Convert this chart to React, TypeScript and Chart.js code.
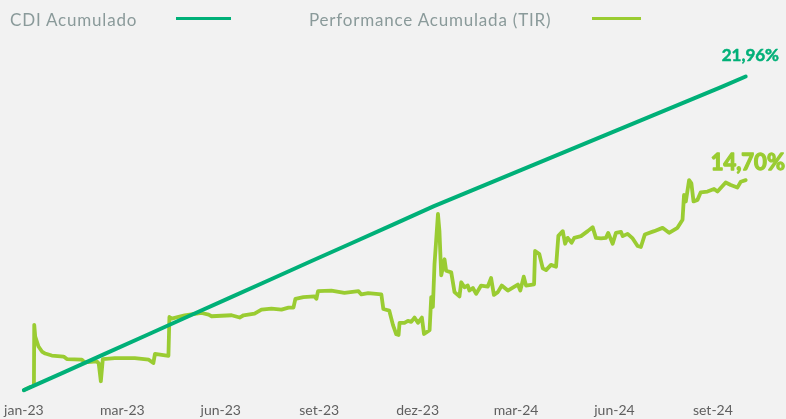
import React, { useEffect, useRef } from "react";
import { Chart, registerables } from "chart.js";

Chart.register(...registerables);

// x unit: business-day index from the start of the series
const tickDays = [0, 60, 120, 180, 240, 300, 360, 420];
const tickLabels = ["jan-23", "mar-23", "jun-23", "set-23", "dez-23", "mar-24", "jun-24", "set-24"];

const seriesNames = ["CDI Acumulado", "Performance Acumulada (TIR)"];
const seriesColors = ["#00b078", "#9acc32"];

const cdiDays = [0, 25, 50, 75, 100, 125, 150, 175, 200, 225, 250, 275, 300, 325, 350, 375, 400, 425, 440];
const cdiValues = [0, 1.28, 2.57, 3.86, 5.15, 6.44, 7.73, 9.02, 10.3, 11.59, 12.88, 14.07, 15.26, 16.45, 17.64, 18.83, 20.02, 21.21, 21.96];

const perfDays = [
  0, 3, 6.1, 6.3, 6.9, 8.9, 11, 13, 17, 24.2,
  26.2, 35.3, 37.1, 44.4, 45.6, 46.9, 48.1, 55.4, 67.6, 76.1,
  78.9, 79.9, 88.1, 88.7, 90.1, 98, 108.3, 112.6, 114.4, 126.6,
  131.5, 133.9, 140.6, 144.8, 150.9, 157, 161.3, 164.3, 165.5, 170.4,
  177.1, 178.3, 179.3, 187.4, 195.4, 203.9, 205.7, 209.9, 217.9, 219.1,
  222.7, 225, 227, 228.4, 229, 232, 234.1, 236.1, 238.1, 240.2,
  242.6, 243.9, 247.3, 248.3, 249.3, 250.3, 251.3, 252.4, 253.3, 254.4,
  256.4, 257.4, 260.5, 262.5, 265.5, 266.6, 268.6, 270.6, 271.6, 273.7,
  275.7, 278.7, 282.8, 284.8, 286.5, 288.9, 291.3, 295, 301.1, 302.6,
  304.7, 306.1, 311, 311.6, 314.2, 316.3, 318.3, 321.3, 324.4, 325.8,
  328.5, 329.9, 331.5, 333.9, 335.5, 339.6, 343.7, 346.7, 348.7, 351.8,
  354.8, 356.2, 358.9, 360.9, 364, 365, 368, 371.1, 374.1, 376.1,
  378.5, 384.2, 389.3, 393.3, 398.4, 401.5, 402.4, 403.5, 405.5, 406.9,
  408.2, 410.6, 412.6, 416.7, 420.7, 422.8, 427.8, 430.9, 434.9, 437, 440,
];
const perfValues = [
  0, 0.17, 0.35, 4.57, 3.74, 3.05, 2.7, 2.56, 2.42, 2.35,
  2.17, 2.13, 1.94, 2.01, 1.87, 0.62, 2.17, 2.24, 2.24, 2.13,
  1.89, 2.54, 2.4, 5.12, 5.01, 5.24, 5.4, 5.28, 5.17, 5.24,
  5.08, 5.24, 5.35, 5.63, 5.7, 5.63, 5.77, 5.77, 6.39, 6.51,
  6.56, 6.39, 6.93, 6.97, 6.81, 6.93, 6.7, 6.79, 6.7, 5.68,
  5.57, 4.55, 3.91, 3.86, 4.71, 4.71, 4.85, 4.78, 5.08, 4.71,
  5.08, 3.93, 4.2, 6.51, 5.82, 8.82, 10.46, 12.33, 11.15, 8.03,
  9.16, 8.36, 8.24, 6.86, 6.56, 7.55, 7.2, 7.32, 6.97, 7.15,
  6.74, 7.32, 7.25, 7.85, 6.67, 6.86, 7.32, 6.97, 7.39, 6.97,
  7.94, 7.32, 7.41, 9.74, 9.52, 8.52, 8.4, 8.77, 8.64, 10.8,
  11.13, 10.25, 10.66, 10.32, 10.66, 10.78, 11.13, 11.41, 10.66, 10.62,
  10.66, 11.01, 10.25, 11.01, 11.08, 10.78, 10.94, 10.62, 10.09, 10.02,
  10.89, 11.13, 11.36, 11.01, 11.36, 11.93, 13.66, 13.21, 14.7, 14.47,
  13.21, 13.32, 13.85, 13.9, 14.08, 13.9, 14.54, 14.36, 14.18, 14.59, 14.7,
];

const endLabelStyles = [
  { size: 17, dx: -24, dy: -15, stroke: 0.5 },
  { size: 22, dx: -35, dy: -10, stroke: 1.3 },
];

const FONT = "Lato, 'Noto Sans', sans-serif";

const endLabelPlugin = {
  id: "endLabels",
  afterDatasetsDraw(chart: any) {
    const ctx = chart.ctx;
    chart.data.datasets.forEach((ds: any, i: number) => {
      const meta = chart.getDatasetMeta(i);
      const pt = meta.data[meta.data.length - 1];
      if (!pt) return;
      const last = ds.data[ds.data.length - 1].y as number;
      const text = last.toFixed(2).replace(".", ",") + "%";
      const st = endLabelStyles[i];
      ctx.save();
      ctx.font = `bold ${st.size}px ${FONT}`;
      ctx.fillStyle = ds.borderColor;
      ctx.strokeStyle = ds.borderColor;
      ctx.lineWidth = st.stroke;
      ctx.lineJoin = "round";
      ctx.textAlign = "left";
      ctx.textBaseline = "alphabetic";
      ctx.fillText(text, pt.x + st.dx, pt.y + st.dy);
      ctx.strokeText(text, pt.x + st.dx, pt.y + st.dy);
      ctx.restore();
    });
  },
};

export default function App() {
  const ref = useRef<HTMLCanvasElement | null>(null);

  useEffect(() => {
    document.body.style.margin = "0";
    if (!ref.current) return;
    const chart = new Chart(ref.current, {
      type: "line",
      data: {
        datasets: [
          {
            label: seriesNames[0],
            data: cdiDays.map((d, i) => ({ x: d, y: cdiValues[i] })),
            borderColor: seriesColors[0],
            backgroundColor: seriesColors[0],
            borderWidth: 4,
            pointRadius: 0,
            tension: 0,
            borderJoinStyle: "round",
            borderCapStyle: "round",
          },
          {
            label: seriesNames[1],
            data: perfDays.map((d, i) => ({ x: d, y: perfValues[i] })),
            borderColor: seriesColors[1],
            backgroundColor: seriesColors[1],
            borderWidth: 3.8,
            pointRadius: 0,
            tension: 0,
            borderJoinStyle: "round",
            borderCapStyle: "round",
          },
        ],
      },
      options: {
        animation: false,
        responsive: false,
        maintainAspectRatio: false,
        layout: { padding: { left: 5.57, right: 23.9, top: 40, bottom: 17.2 } },
        plugins: { legend: { display: false }, tooltip: { enabled: false } },
        scales: {
          x: {
            type: "linear",
            min: -10,
            max: 450,
            grid: { display: false, drawTicks: false },
            border: { display: false },
            afterBuildTicks: (scale: any) => {
              scale.ticks = tickDays.map((v) => ({ value: v }));
            },
            ticks: {
              padding: 4,
              color: "#5f5f5f",
              font: { family: FONT, size: 14 },
              maxRotation: 0,
              autoSkip: false,
              callback: (value: any) => {
                const i = tickDays.indexOf(Number(value));
                return i >= 0 ? tickLabels[i] : "";
              },
            },
          },
          y: { display: false, min: -0.554, max: 24.515 },
        },
      },
      plugins: [endLabelPlugin],
    } as any);
    let alive = true;
    const fonts = (document as any).fonts;
    if (fonts && fonts.load) {
      Promise.all([fonts.load("bold 22px Lato"), fonts.load("bold 17px Lato"), fonts.load("14px Lato")])
        .then(() => {
          if (alive) chart.update();
        })
        .catch(() => {});
    }
    return () => {
      alive = false;
      chart.destroy();
    };
  }, []);

  const legendText: React.CSSProperties = {
    position: "absolute",
    top: 10,
    fontFamily: FONT,
    fontSize: 17,
    lineHeight: "20px",
    letterSpacing: "0.8px",
    color: "#8a9a9a",
    whiteSpace: "nowrap",
  };

  return (
    <div
      style={{
        position: "fixed",
        left: 0,
        top: 0,
        width: 786,
        height: 419,
        overflow: "hidden",
        background: "#f2f2f2",
      }}
    >
      <canvas ref={ref} width={786} height={440} style={{ display: "block", position: "absolute", left: 0, top: 0 }} />
      <span style={{ ...legendText, left: 10 }}>{seriesNames[0]}</span>
      <div style={{ position: "absolute", left: 176, top: 17, width: 55, height: 3, background: seriesColors[0] }} />
      <span style={{ ...legendText, left: 309 }}>{seriesNames[1]}</span>
      <div style={{ position: "absolute", left: 592, top: 17, width: 49, height: 3, background: seriesColors[1] }} />
    </div>
  );
}
